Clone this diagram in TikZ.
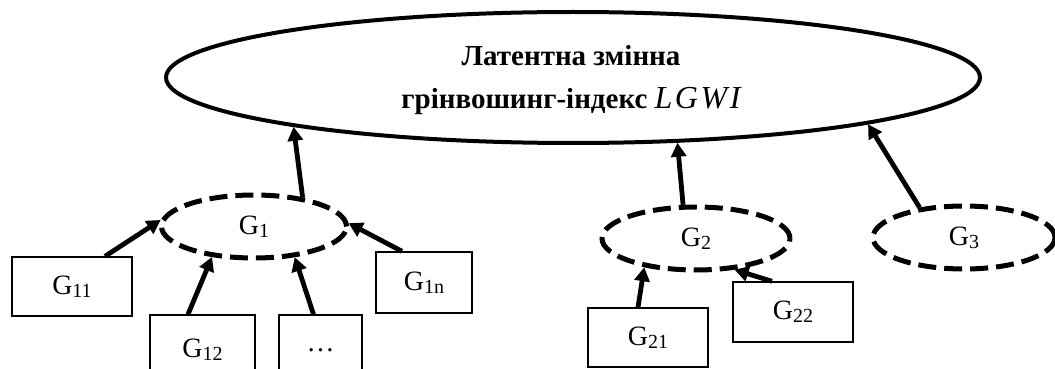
\documentclass[tikz,border=0pt]{standalone}
\usepackage{fontspec}
\setmainfont{Liberation Serif}
\newfontfamily\lgwifont{Liberation Serif}[LetterSpace=8.0]
\usetikzlibrary{shapes.geometric,arrows.meta}
\newcommand{\gsub}[1]{\raisebox{-1.6pt}{\fontsize{10}{10}\selectfont #1}}
\begin{document}
\begin{tikzpicture}[x=0.5pt,y=-0.5pt,
  latent/.style={ellipse, draw, line width=2pt, inner sep=0pt},
  title/.style={inner sep=0pt, align=center,
    font=\bfseries\fontsize{14.5}{21.5}\selectfont},
  factor/.style={ellipse, draw, line width=2.5pt, dash pattern=on 9pt off 4pt,
    inner sep=0pt, minimum height=31.5pt, font=\fontsize{14}{17}\selectfont},
  indic/.style={rectangle, draw, line width=0.7pt, inner sep=0pt,
    font=\fontsize{14}{17}\selectfont},
  link/.style={line width=2.4pt, -{Triangle[length=7pt,width=7.5pt]}}
]
\useasboundingbox (0,0) rectangle (1055,369);
\clip (0,0) rectangle (1055,369);

\node[latent, minimum width=407pt, minimum height=65.5pt] (L) at (573,77.5) {};
\node[title] (T) at (571,80)
  {Латентна змінна\\грінвошинг-індекс {\mdseries\itshape\lgwifont\fontsize{16}{21.5}\selectfont LGWI}};

\node[factor, minimum width=92.5pt] (G1) at (254,226.5) {G\gsub{1}};
\node[factor, minimum width=94pt] (G2) at (696,238.5) {G\gsub{2}};
\node[factor, minimum width=91pt] (G3) at (964,237.5) {G\gsub{3}};

\node[indic, minimum width=60pt, minimum height=29.5pt] (G11) at (72,286.5) {G\gsub{11}};
\node[indic, minimum width=52.5pt, minimum height=35pt] (G12) at (202.5,350) {G\gsub{12}};
\node[indic, minimum width=41.5pt, minimum height=35pt] (D) at (320.5,350) {\dots};
\node[indic, minimum width=48pt, minimum height=30.5pt] (G1n) at (424,282.5) {G\gsub{1n}};
\node[indic, minimum width=60pt, minimum height=29.5pt] (G21) at (648,337.5) {G\gsub{21}};
\node[indic, minimum width=60pt, minimum height=30pt] (G22) at (793,312) {G\gsub{22}};

\draw[link] ([xshift=16.5pt]G11.north) -- (G1.176);
\draw[link] ([xshift=-7.25pt]G12.north) -- (G1.216);
\draw[link] ([xshift=-3.5pt]D.north) -- (G1.323);
\draw[link] ([xshift=-11pt]G1n.north) -- (G1.2);
\draw[link] (G1.31) -- (L.190.7);
\draw[link] ([xshift=-5pt]G21.north) -- (G2.209);
\draw[link] ([xshift=-10.5pt]G22.north) -- (G2.321);
\draw[link] (G2.111.5) -- (L.328.7);
\draw[link] (G3.146.6) -- (L.351.1);
\end{tikzpicture}
\end{document}
